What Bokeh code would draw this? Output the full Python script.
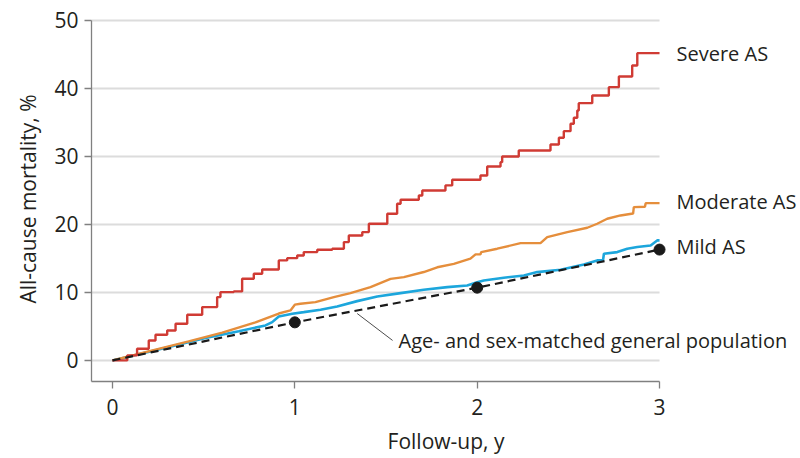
from bokeh.plotting import figure
from bokeh.models import Range1d, Label, FixedTicker
from bokeh.embed import file_html
from bokeh.resources import INLINE

# ---- data ----
x_ticks = [0, 1, 2, 3]
y_ticks = [0, 10, 20, 30, 40, 50]

severe_x = [0, 0.016, 0.081, 0.135, 0.199, 0.236, 0.300, 0.346, 0.410, 0.492, 0.574, 0.592,
            0.665, 0.711, 0.775, 0.821, 0.912, 0.958, 1.013, 1.049, 1.123, 1.205, 1.269, 1.296,
            1.370, 1.406, 1.507, 1.561, 1.580, 1.680, 1.699, 1.826, 1.863, 2.018, 2.055, 2.128,
            2.137, 2.228, 2.402, 2.448, 2.475, 2.512, 2.530, 2.549, 2.557, 2.631, 2.722, 2.777,
            2.850, 2.878, 3.0]
severe_y = [0, 0, 0.74, 1.72, 2.94, 3.78, 4.41, 5.40, 6.72, 7.84, 9.31, 10.04,
            10.15, 12.01, 12.75, 13.38, 14.71, 15.04, 15.44, 15.93, 16.28, 16.43, 17.40, 18.38,
            18.87, 20.10, 21.57, 23.04, 23.63, 24.26, 25.0, 25.74, 26.57, 27.2, 28.53, 29.16,
            30.0, 30.88, 31.76, 32.75, 33.72, 34.81, 35.69, 36.76, 37.84, 38.97, 40.19, 41.76,
            43.38, 45.19, 45.19]

moderate_x = [0, 0.12, 0.236, 0.418, 0.602, 0.784, 0.912, 0.976, 1.0, 1.031, 1.113, 1.214,
              1.305, 1.415, 1.525, 1.598, 1.707, 1.781, 1.872, 1.963, 1.991, 2.018, 2.022,
              2.110, 2.238, 2.347, 2.384, 2.494, 2.604, 2.658, 2.713, 2.786, 2.855, 2.859,
              2.920, 2.924, 3.0]
moderate_y = [0, 0.8, 1.6, 2.8, 4.1, 5.6, 6.9, 7.35, 8.2, 8.34, 8.57, 9.31,
              9.9, 10.78, 12.0, 12.25, 13.0, 13.7, 14.2, 14.96, 15.59, 15.59, 15.93,
              16.43, 17.25, 17.25, 18.13, 18.87, 19.51, 20.1, 20.84, 21.32, 21.6, 22.54,
              22.6, 23.13, 23.13]

mild_x = [0, 0.144, 0.327, 0.51, 0.693, 0.839, 0.876, 0.912, 0.986, 1.049, 1.141, 1.232,
          1.342, 1.452, 1.58, 1.707, 1.836, 1.945, 2.0, 2.036, 2.146, 2.256, 2.329, 2.457,
          2.585, 2.658, 2.690, 2.695, 2.768, 2.823, 2.878, 2.951, 2.987, 3.0]
mild_y = [0, 0.9, 2.1, 3.3, 4.3, 5.15, 5.63, 6.47, 6.87, 7.1, 7.45, 7.94,
          8.72, 9.41, 9.9, 10.39, 10.78, 11.03, 11.5, 11.76, 12.16, 12.5, 12.99, 13.34,
          14.12, 14.71, 14.71, 15.69, 15.93, 16.43, 16.67, 16.91, 17.65, 17.65]

genpop_x = [0, 1, 2, 3]
genpop_y = [0, 5.6, 10.7, 16.3]

series_labels = ["Severe AS", "Moderate AS", "Mild AS"]
series_label_y = [45.2, 23.4, 16.8]
genpop_label = "Age- and sex-matched general population"

# ---- styling ----
FONT = "Open Sans"
TXT = "#231f20"
RED = "#d03b34"
ORANGE = "#e58e3c"
BLUE = "#1ca6dc"
GRID = "#dcdcdc"
AXIS = "#808080"

x_start, x_end = -0.115, 3.773
y_start, y_end = -3.1, 50.58

p = figure(width=800, height=458, output_backend="svg", toolbar_location=None,
           x_range=Range1d(x_start, x_end), y_range=Range1d(y_start, y_end),
           min_border_left=91, min_border_right=0, min_border_top=16, min_border_bottom=77)
p.outline_line_color = None
p.background_fill_color = "white"
p.border_fill_color = "white"
p.xgrid.visible = False
p.ygrid.visible = False

# gridlines ending at last x tick
p.segment(x0=[x_start] * len(y_ticks), x1=[x_ticks[-1]] * len(y_ticks),
          y0=y_ticks, y1=y_ticks, line_color=GRID, line_width=2)

for ax in (p.xaxis[0], p.yaxis[0]):
    ax.axis_line_color = AXIS
    ax.axis_line_width = 1.3
    ax.major_tick_line_color = AXIS
    ax.major_tick_line_width = 1.3
    ax.major_tick_in = 0
    ax.major_tick_out = 7
    ax.minor_tick_line_color = None
    ax.major_label_text_font = FONT
    ax.major_label_text_font_size = "21px"
    ax.major_label_text_color = TXT
    ax.axis_label_text_font = FONT
    ax.axis_label_text_font_size = "21px"
    ax.axis_label_text_font_style = "normal"
    ax.axis_label_text_color = TXT

p.xaxis.ticker = FixedTicker(ticks=x_ticks)
p.yaxis.ticker = FixedTicker(ticks=y_ticks)
p.xaxis.bounds = (x_start, x_ticks[-1])
p.yaxis.bounds = (y_start, y_ticks[-1])
p.xaxis.axis_label = "Follow-up, y"
p.yaxis.axis_label = "All-cause mortality, %"
p.xaxis.major_label_standoff = 10
p.yaxis.major_label_standoff = 6
p.xaxis.axis_label_standoff = 9
p.yaxis.axis_label_standoff = 9

# curves
p.line(mild_x, mild_y, line_color=BLUE, line_width=2.6)
p.line(moderate_x, moderate_y, line_color=ORANGE, line_width=2.4)
p.step(severe_x, severe_y, mode="after", line_color=RED, line_width=2.4)
p.line(genpop_x, genpop_y, line_color="#1a1a1a", line_width=2.2, line_dash="8 5")
p.scatter(genpop_x[1:], genpop_y[1:], size=11, fill_color="#1a1a1a", line_color="#1a1a1a")

# leader line for general population annotation
lead_x = [1.342, 1.536]
lead_y = [6.9, 2.94]
p.line(lead_x, lead_y, line_color="#4d4d4d", line_width=1)

p.add_layout(Label(x=1.569, y=2.94, text=genpop_label, text_font=FONT, text_font_size="20px",
                   text_color=TXT, text_baseline="middle", text_align="left"))
for name, yy in zip(series_labels, series_label_y):
    p.add_layout(Label(x=3.093, y=yy, text=name, text_font=FONT, text_font_size="20px",
                       text_color=TXT, text_baseline="middle", text_align="left"))

open("out.html", "w").write(file_html(p, INLINE))
